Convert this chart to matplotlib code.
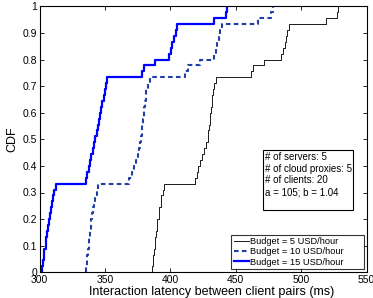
import numpy as np
import matplotlib
matplotlib.use("Agg")
import matplotlib.pyplot as plt

plt.rcParams['font.family'] = ['Liberation Sans', 'DejaVu Sans']

# Sorted interaction latencies (ms)
lat_5 = [385.7, 386.5, 387, 387.5, 388, 388.5, 389, 389.5, 390, 391, 391.5, 392.5, 393, 394, 395.4,
         418.6, 420, 421.4, 423, 424.5, 426, 427.5, 428.5, 429, 429.5, 430, 430.4, 431, 431.5, 432, 432.5, 433.5, 435,
         461.8, 462.8, 471.8, 484.5, 486, 487.5, 488.5, 489.5, 490.8, 518.9, 527.3, 528.5]
lat_10 = [335.5, 336, 336.5, 337, 337.5, 338, 338.5, 339, 339.5, 340, 341, 341.5, 342.5, 343.5, 344.9,
          368.5, 370.5, 372.5, 374, 375, 376, 377, 377.5, 378, 378.5, 379, 379.5, 380, 380.5, 381, 381.5, 382.5, 384.5,
          411.2, 413.8, 423, 433.6, 434.5, 436, 437, 438, 439.3, 466.9, 477.3, 478.1]
lat_15 = [302, 302.5, 303, 303.5, 304.5, 305, 305.5, 306.5, 307, 308, 308.5, 309.5, 310, 311, 312.5,
          335.5, 336.5, 337.5, 338.5, 339.5, 340.5, 341.5, 342.5, 343.5, 344.5, 345.5, 346.5, 347, 348, 349, 350, 350.5, 351.3,
          378.6, 380, 388.5, 399.2, 400.5, 401.5, 402.5, 404, 405.3, 433.6, 442.4, 443.6]

labels = ['Budget = 5 USD/hour', 'Budget = 10 USD/hour', 'Budget = 15 USD/hour']
info_text = "# of servers: 5\n# of cloud proxies: 5\n# of clients: 20\na = 105; b = 1.04\n "
xticks = [300, 350, 400, 450, 500, 550]
yticks = [0, 0.1, 0.2, 0.3, 0.4, 0.5, 0.6, 0.7, 0.8, 0.9, 1]
ytick_labels = ['0', '0.1', '0.2', '0.3', '0.4', '0.5', '0.6', '0.7', '0.8', '0.9', '1']


def cdf(values):
    v = np.sort(np.asarray(values, dtype=float))
    n = len(v)
    xs = np.concatenate([[v[0]], v])
    ys = np.concatenate([[0.0], np.arange(1, n + 1) / n])
    return xs, ys


fig = plt.figure(figsize=(3.73, 2.98), dpi=100)
ax = fig.add_axes([39.7 / 373, (298 - 272.3) / 298, (366.5 - 39.7) / 373, (272.3 - 6.3) / 298])

styles = [dict(color='#1a1a1a', lw=0.7, ls='-'),
          dict(color='#1f3fa6', lw=1.5, ls=(0, (2.2, 1.6))),
          dict(color='#0000ff', lw=1.6, ls='-')]
for data, lab, st in zip([lat_5, lat_10, lat_15], labels, styles):
    xs, ys = cdf(data)
    ax.plot(xs, ys, drawstyle='steps-post', label=lab, **st)

ax.set_xlim(300, 550)
ax.set_ylim(0, 1)
ax.set_xticks(xticks)
ax.set_yticks(yticks)
ax.set_yticklabels(ytick_labels)
ax.tick_params(direction='in', top=True, right=True, labelsize=7.5, length=3, width=0.6, pad=2)
for s in ax.spines.values():
    s.set_linewidth(0.8)
ax.set_xlabel('Interaction latency between client pairs (ms)', fontsize=9, labelpad=0)
ax.xaxis.set_label_coords(0.526, -0.052)
ax.set_ylabel('CDF', fontsize=9, labelpad=3)

leg = ax.legend(loc='lower left', bbox_to_anchor=(0.586, 0.011, 0.406, 0.13), mode='expand',
                fontsize=6.7, frameon=True, fancybox=False,
                edgecolor='black', handlelength=1.6, handletextpad=0.12,
                borderpad=0.3, labelspacing=0.12, borderaxespad=0.0)
leg.get_frame().set_linewidth(0.8)

ax.text(0.689, 0.453, info_text, transform=ax.transAxes, fontsize=7,
        va='top', ha='left', linespacing=1.22,
        bbox=dict(boxstyle='square,pad=0.15', facecolor='white', edgecolor='black', linewidth=0.8))

fig.savefig('out.png', dpi=100)
